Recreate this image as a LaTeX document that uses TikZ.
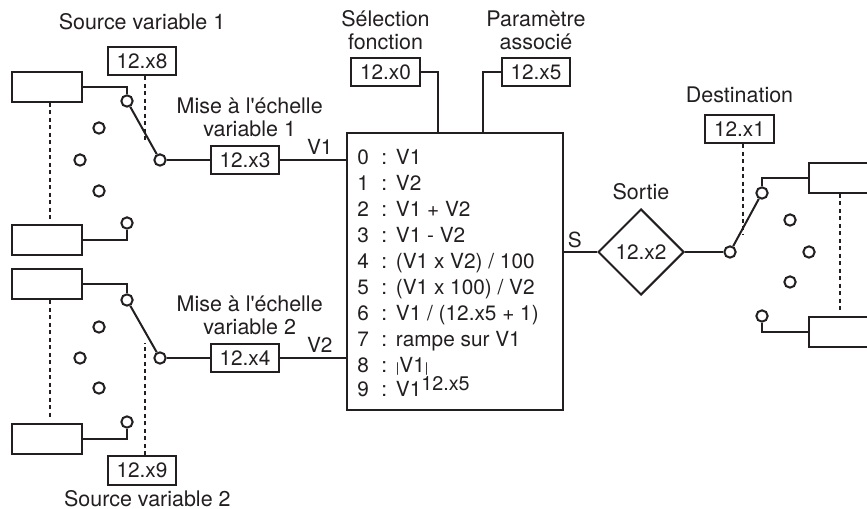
\documentclass[tikz,border=0pt]{standalone}
\usepackage{fontspec}
\setmainfont{TeX Gyre Heros}
\usepackage{xcolor}
\usepackage{tikz}
\usetikzlibrary{shapes.geometric,positioning}
\definecolor{ink}{HTML}{231F20}

\begin{document}
\begin{tikzpicture}[
  x=0.75pt, y=-0.75pt,
  every node/.style={text=ink, font=\fontsize{15.6}{17}\selectfont},
  param/.style={rectangle, draw=ink, line width=1.5pt, fill=white, minimum width=51.5pt, minimum height=21.5pt, inner sep=0pt},
  source/.style={rectangle, draw=ink, line width=1.5pt, minimum width=52pt, minimum height=22.5pt, inner sep=0pt},
  pin/.style={circle, draw=ink, line width=1.5pt, fill=white, minimum size=8.5pt, inner sep=0pt},
  lab/.style={align=center, inner sep=0pt, font=\fontsize{16.1}{17.2}\selectfont},
  func/.style={rectangle, draw=ink, line width=1.5pt, minimum height=207.75pt, minimum width=162pt, inner sep=0pt},
  output/.style={diamond, draw=ink, line width=1.5pt, minimum width=64.5pt, minimum height=64.5pt, inner sep=0pt},
  wire/.style={draw=ink, line width=1.5pt},
  link/.style={draw=ink, line width=1.5pt, dash pattern=on 3pt off 2.6pt}]
  \useasboundingbox (0,0) rectangle (867,509);

  % function block
  \node[func] (fct) at (455,271.5) {};
  \node[anchor=west, inner sep=0pt] (lst) at (357,275) {\renewcommand{\arraystretch}{1.15}%
    \begin{tabular}{@{}p{18pt}@{}p{11pt}@{}l@{}}
      0 & : & V1\\
      1 & : & V2\\
      2 & : & V1 + V2\\
      3 & : & V1 - V2\\
      4 & : & (V1 x V2) / 100\\
      5 & : & (V1 x 100) / V2\\
      6 & : & V1 / (12.x5 + 1)\\
      7 & : & rampe sur V1\\
      8 & : & {\fontsize{10}{10}\selectfont|}V1{\fontsize{10}{10}\selectfont|}\\[-2pt]
      9 & : & V1\smash{\raisebox{4.5pt}{\fontsize{14.8}{16}\selectfont 12.x5}}
    \end{tabular}};
  \node[param] (p0) at (385.5,72) {12.x0};
  \node[param] (p5) at (536,72) {12.x5};
  \node[lab, above=5pt of p0] (lp0) {Sélection\\fonction};
  \node[lab, above=5pt of p5] (lp5) {Paramètre\\associé};
  \coordinate (t0) at (438,133);
  \coordinate (t5) at (483,133);
  \draw[wire] (p0.east) -| (t0);
  \draw[wire] (p5.west) -| (t5);

  % variable 1
  \node[source] (s1a) at (47,87) {};
  \node[source] (s1b) at (47,240.5) {};
  \node[pin] (a1) at (127,101) {};
  \node[pin] (a2) at (99,128) {};
  \node[pin] (a3) at (80,160) {};
  \node[pin] (a4) at (99,191) {};
  \node[pin] (a5) at (127,223) {};
  \node[pin] (a0) at (160,160) {};
  \node[param] (p8) at (142,61) {12.x8};
  \node[param] (p3) at (245,160) {12.x3};
  \node[lab, above=12pt of p8] (lp8) {Source variable 1};
  \node[lab, above=6pt of p3, xshift=3.5pt] (lp3) {Mise à l\textquotesingle échelle\\variable 1};
  \coordinate (k1) at (145,141);
  \coordinate (v1) at (fct.west |- p3);
  \draw[wire] (s1a.east) -| (a1);
  \draw[wire] (s1b.east) -| (a5);
  \draw[wire] (a1) -- (a0);
  \draw[wire] (a0) -- (p3);
  \draw[wire] (p3) -- node[above=3pt, inner sep=0pt, pos=0.6] (lv1) {V1} (v1);
  \draw[link] (k1 |- p8.south) -- (k1);
  \draw[link] ([xshift=2pt]s1a.south) -- ([xshift=2pt,yshift=2pt]s1b.north);

  % variable 2
  \node[source] (s2a) at (47,284.5) {};
  \node[source] (s2b) at (47,438.5) {};
  \node[pin] (b1) at (127,300) {};
  \node[pin] (b2) at (99,327) {};
  \node[pin] (b3) at (80,358) {};
  \node[pin] (b4) at (99,388) {};
  \node[pin] (b5) at (127,422) {};
  \node[pin] (b0) at (160,358) {};
  \node[param] (p9) at (142,470.5) {12.x9};
  \node[param] (p4) at (245,358) {12.x4};
  \node[lab, below=3pt of p9, xshift=4pt] (lp9) {Source variable 2};
  \node[lab, above=6pt of p4, xshift=3.5pt] (lp4) {Mise à l\textquotesingle échelle\\variable 2};
  \coordinate (k2) at (145,343);
  \coordinate (v2) at (fct.west |- p4);
  \draw[wire] (s2a.east) -| (b1);
  \draw[wire] (s2b.east) -| (b5);
  \draw[wire] (b1) -- (b0);
  \draw[wire] (b0) -- (p4);
  \draw[wire] (p4) -- node[above=3pt, inner sep=0pt, pos=0.6] (lv2) {V2} (v2);
  \draw[link] (k2 |- p9.north) -- (k2);
  \draw[link] ([xshift=2pt]s2a.south) -- ([xshift=2pt,yshift=2pt]s2b.north);

  % output
  \node[output] (p2) at (641,252) {12.x2};
  \node[lab, above=6pt of p2] (lp2) {Sortie};
  \node[pin] (c0) at (730,252) {};
  \node[pin] (c1) at (762,193) {};
  \node[pin] (c2) at (790,220) {};
  \node[pin] (c3) at (809,252) {};
  \node[pin] (c4) at (790,282) {};
  \node[pin] (c5) at (762,316) {};
  \node[source, anchor=west] (d1) at (808,178.5) {};
  \node[source, anchor=west] (d2) at (808,332) {};
  \node[param] (p1) at (739.5,129) {12.x1};
  \node[lab, above=8pt of p1] (lp1) {Destination};
  \coordinate (k3) at (743,235);
  \coordinate (e1) at (840,194);
  \coordinate (e2) at (840,313);
  \coordinate (vs) at (fct.east |- p2);
  \draw[wire] (vs) -- node[above=2.5pt, inner sep=0pt, pos=0.33] (ls) {S} (p2.west);
  \draw[wire] (p2.east) -- (c0);
  \draw[wire] (c0) -- (c1);
  \draw[wire] (d1.west) -| (c1);
  \draw[wire] (d2.west) -| (c5);
  \draw[link] (k3 |- p1.south) -- (k3);
  \draw[link] (e1) -- (e2);
\end{tikzpicture}
\end{document}
